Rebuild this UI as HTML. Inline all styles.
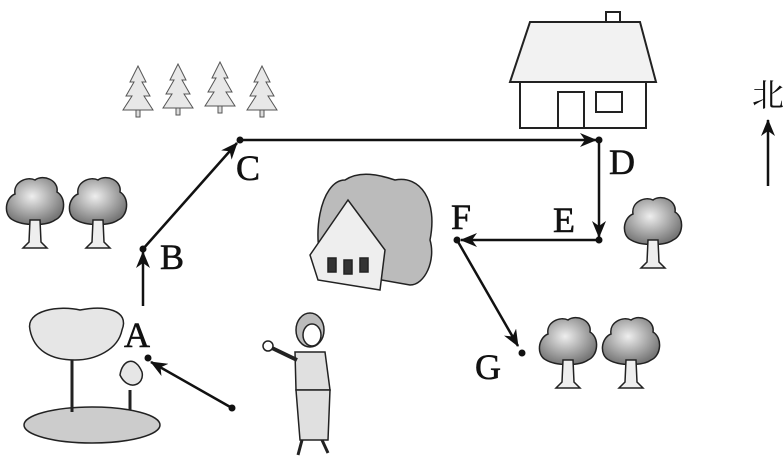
<!DOCTYPE html>
<html><head><meta charset="utf-8"><style>
html,body{margin:0;padding:0;background:#fff;}
svg{display:block;}
text{font-family:"Liberation Serif","Noto Serif CJK SC",serif;fill:#111;}
</style></head><body>
<svg width="784" height="464" viewBox="0 0 784 464" xmlns="http://www.w3.org/2000/svg">
<defs>
<marker id="ah" markerWidth="18" markerHeight="14" refX="16" refY="7" orient="auto" markerUnits="userSpaceOnUse">
<path d="M0,0 L17,7 L0,14 L5,7 Z" fill="#111"/>
</marker>
<radialGradient id="tg" cx="0.45" cy="0.4" r="0.6"><stop offset="0" stop-color="#eee"/><stop offset="1" stop-color="#777"/></radialGradient>
<g id="tree">
<path d="M-22,0 C-32,-5 -30,-22 -20,-26 C-22,-38 -8,-44 0,-40 C8,-46 24,-40 22,-28 C32,-22 30,-4 20,0 C12,6 -12,6 -22,0Z" fill="url(#tg)" stroke="#222" stroke-width="1.5"/>
<path d="M-5,0 L-6,22 L-12,28 L12,28 L6,22 L5,0 Z" fill="#eee" stroke="#222" stroke-width="1.5"/>
</g>
<g id="pine">
<path d="M0,-34 L-8,-18 L-4,-18 L-12,-4 L-6,-4 L-15,10 L15,10 L6,-4 L12,-4 L4,-18 L8,-18 Z" fill="#e8e8e8" stroke="#555" stroke-width="1"/>
<rect x="-2" y="10" width="4" height="7" fill="#ddd" stroke="#555" stroke-width="1"/>
</g>
</defs>

<use href="#pine" x="138" y="100"/>
<use href="#pine" x="178" y="98"/>
<use href="#pine" x="220" y="96"/>
<use href="#pine" x="262" y="100"/>

<use href="#tree" x="35" y="220"/>
<use href="#tree" x="98" y="220"/>
<use href="#tree" x="653" y="240"/>
<use href="#tree" x="568" y="360"/>
<use href="#tree" x="631" y="360"/>

<g stroke="#222" stroke-width="2" fill="#fff">
<rect x="606" y="12" width="14" height="20"/>
<path d="M530,22 L640,22 L656,82 L510,82 Z" fill="#f2f2f2"/>
<rect x="520" y="82" width="126" height="46"/>
<rect x="558" y="92" width="26" height="36"/>
<rect x="596" y="92" width="26" height="20"/>
</g>

<g stroke="#222" stroke-width="1.5">
<path d="M325,270 C310,240 320,180 345,180 C360,170 380,175 395,180 C420,175 438,200 430,240 C436,260 425,285 410,285 Z" fill="#bbb"/>
<path d="M310,255 L348,200 L385,250 L380,290 L318,280 Z" fill="#eee"/>
<rect x="328" y="258" width="8" height="14" fill="#333"/>
<rect x="344" y="260" width="8" height="14" fill="#333"/>
<rect x="360" y="258" width="8" height="14" fill="#333"/>
</g>

<g stroke="#222" stroke-width="1.5">
<ellipse cx="92" cy="425" rx="68" ry="18" fill="#ccc"/>
<path d="M72,358 L72,412" fill="none" stroke-width="3"/>
<path d="M30,330 C25,310 60,305 80,310 C105,305 130,310 122,330 C118,350 95,360 75,360 C50,360 34,350 30,330Z" fill="#e6e6e6"/>
<path d="M130,410 L130,390" stroke-width="3"/>
<path d="M120,375 C122,360 135,355 142,372 C145,385 128,392 120,375Z" fill="#e6e6e6"/>
</g>

<g stroke="#222" stroke-width="1.5" fill="#fff">
<ellipse cx="310" cy="330" rx="14" ry="17" fill="#bbb"/>
<ellipse cx="312" cy="335" rx="9" ry="11"/>
<path d="M295,352 L325,352 L330,390 L296,390 Z" fill="#e0e0e0"/>
<path d="M296,390 L330,390 L328,440 L300,440 Z" fill="#e0e0e0"/>
<path d="M297,360 L272,348" stroke-width="4" fill="none"/>
<circle cx="268" cy="346" r="5"/>
<path d="M302,440 L298,455 M322,440 L328,453" stroke-width="3" fill="none"/>
</g>

<g stroke="#111" stroke-width="2.5" fill="none">
<line x1="232" y1="408" x2="151" y2="362" marker-end="url(#ah)"/>
<line x1="143" y1="306" x2="143" y2="252" marker-end="url(#ah)"/>
<line x1="143" y1="249" x2="237" y2="143" marker-end="url(#ah)"/>
<line x1="240" y1="140" x2="596" y2="140" marker-end="url(#ah)"/>
<line x1="599" y1="140" x2="599" y2="237" marker-end="url(#ah)"/>
<line x1="599" y1="240" x2="461" y2="240" marker-end="url(#ah)"/>
<line x1="457" y1="240" x2="518" y2="346" marker-end="url(#ah)"/>
<line x1="768" y1="186" x2="768" y2="120" marker-end="url(#ah)"/>
</g>
<g fill="#111">
<circle cx="148" cy="358" r="3.5"/>
<circle cx="232" cy="408" r="3.5"/>
<circle cx="143" cy="249" r="3.5"/>
<circle cx="240" cy="140" r="3.5"/>
<circle cx="599" cy="140" r="3.5"/>
<circle cx="599" cy="240" r="3.5"/>
<circle cx="457" cy="240" r="3.5"/>
<circle cx="522" cy="353" r="3.5"/>
</g>

<g font-size="36" stroke="#111" stroke-width="0.6">
<text x="124" y="347">A</text>
<text x="160" y="269">B</text>
<text x="236" y="180">C</text>
<text x="609" y="174">D</text>
<text x="553" y="232">E</text>
<text x="451" y="229">F</text>
<text x="475" y="379">G</text>
</g>
<text x="752" y="106" font-size="32" style="font-family:'Noto Serif CJK SC','Noto Sans CJK SC',serif">北</text>
</svg>
</body></html>
